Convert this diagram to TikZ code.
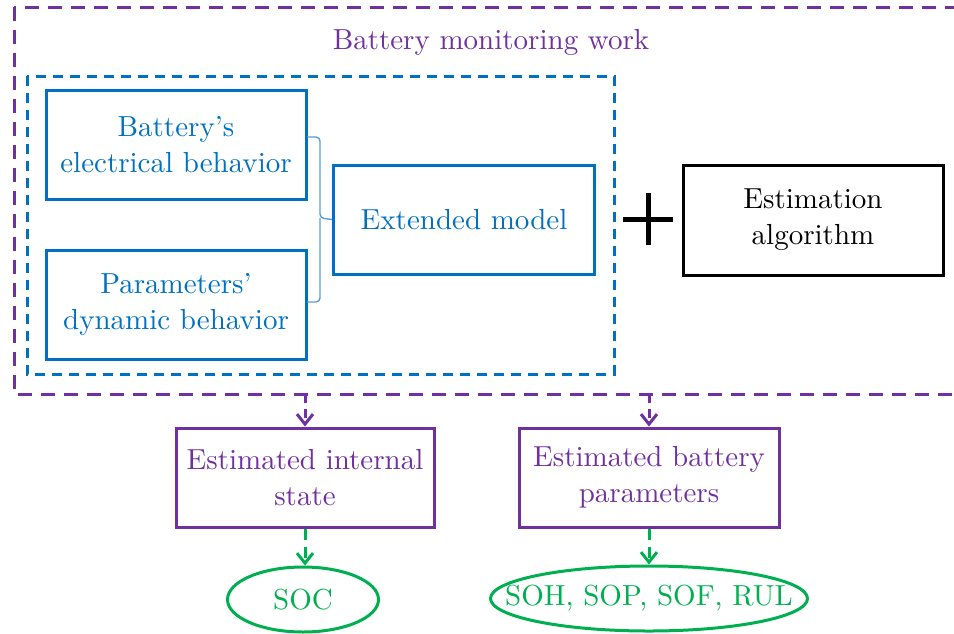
\documentclass[tikz,border=0pt]{standalone}
\usepackage{fontspec}
\setmainfont{lmroman10-regular}[Extension=.otf]
\usetikzlibrary{arrows.meta,shapes.geometric,calc}
\definecolor{vpurple}{HTML}{7030A0}
\definecolor{vblue}{HTML}{0070C0}
\definecolor{vgreen}{HTML}{00B050}
\definecolor{vlblue}{HTML}{5B9BD5}
\begin{document}
\begin{tikzpicture}[x=1pt,y=-1pt,
  font=\fontsize{29}{36}\selectfont,
  box/.style={draw, line width=3pt, align=center, inner sep=0pt},
  bluebox/.style={box, draw=vblue, text=vblue, minimum width=260pt, minimum height=109pt},
  purplebox/.style={box, draw=vpurple, text=vpurple, minimum width=258pt, minimum height=99pt},
  greenell/.style={ellipse, draw=vgreen, line width=3pt, inner sep=0pt, minimum height=65pt},
  greentext/.style={text=vgreen},
  parrow/.style={draw=vpurple, line width=3pt, dash pattern=on 9pt off 6pt, -{Straight Barb[length=10pt,width=16pt]}},
  garrow/.style={draw=vgreen, line width=3pt, dash pattern=on 11pt off 7pt, -{Straight Barb[length=10pt,width=16pt]}},
  bracestyle/.style={draw=vlblue, line width=1.4pt, rounded corners=4pt}]
\useasboundingbox (0,0) rectangle (954,633);
\clip (0,0) rectangle (954,633);

% outer dashed frame
\draw[vpurple, line width=3pt, dash pattern=on 14pt off 9pt] (14,7) rectangle (985,394);
\coordinate (obottom) at (0,394);
\node[text=vpurple] (title) at (491,42) {Battery monitoring work};

% inner blue dashed frame
\draw[vblue, line width=3pt, dash pattern=on 10pt off 7pt] (27,76) rectangle (614,374);

\node[bluebox] (b1) at (176,144.5) {Battery’s\\electrical behavior};
\node[bluebox] (b2) at (176,304.5) {Parameters’\\dynamic behavior};
\node[bluebox, minimum width=261pt] (ext) at (464,219.5) {Extended model};

% brace
\draw[bracestyle] (307,137) -- (320,137) -- (320,218) -- (ext.west);
\draw[bracestyle] (307,302) -- (320,302) -- (320,218);

% plus sign
\coordinate (plus) at (648,219);
\draw[line width=5pt] ($(plus)+(-25,0)$) -- ($(plus)+(25,0)$);
\draw[line width=5pt] ($(plus)+(0,-26)$) -- ($(plus)+(0,26)$);

\node[box, draw=black, text=black, minimum width=260pt, minimum height=110pt] (est) at (813,220) {Estimation\\algorithm};

% outputs
\node[purplebox] (s1) at (305,477.5) {Estimated internal\\state};
\node[purplebox, minimum width=260pt] (s2) at (649,477.5) {Estimated battery\\parameters};

\coordinate (o1) at (s1.north |- obottom);
\coordinate (o2) at (s2.north |- obottom);
\draw[parrow] (o1) -- (s1.north);
\draw[parrow] (o2) -- (s2.north);

\node[greenell, minimum width=151pt] (soc) at (303,599.5) {};
\node[greentext] (soct) at (soc.center) {SOC};
\node[greenell, minimum width=317pt] (soh) at (649,598.5) {};
\node[greentext] (soht) at (soh.center) {SOH, SOP, SOF, RUL};

\draw[garrow] (s1.south) -- (s1.south |- soc.north);
\draw[garrow] (s2.south) -- (soh.north);
\end{tikzpicture}
\end{document}
